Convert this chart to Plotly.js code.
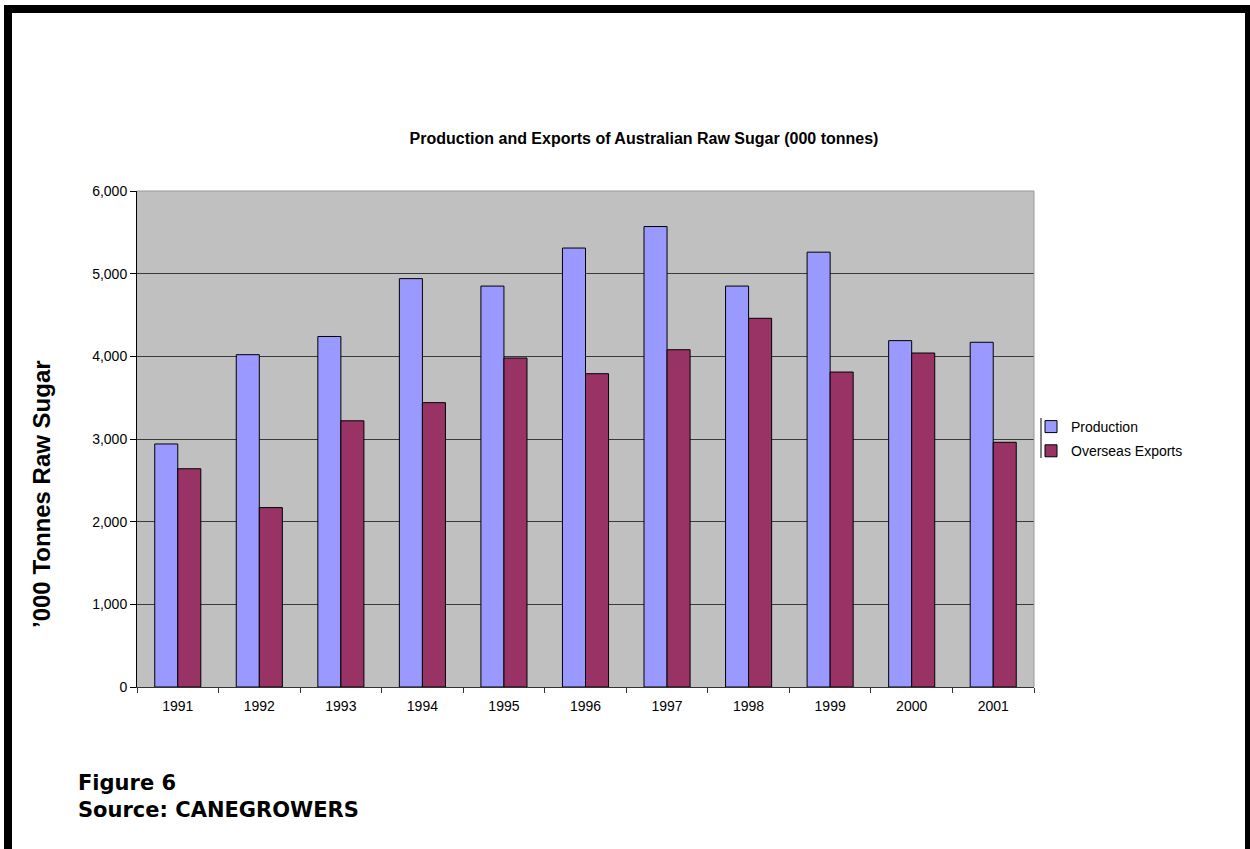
<!DOCTYPE html>
<html>
<head>
<meta charset="utf-8">
<script src="https://cdn.plot.ly/plotly-3.0.1.min.js"></script>
<style>
  html, body { margin: 0; padding: 0; background: #fff; overflow: hidden; }
  #chart { position: absolute; left: 0; top: 0; width: 1250px; height: 849px; }
  #frame { position: absolute; left: 4px; top: 5px; width: 1233px; height: 900px;
           border-left: 8px solid #000; border-top: 8px solid #000; border-right: 8px solid #000;
           pointer-events: none; }
</style>
</head>
<body>
<div id="chart"></div>
<div id="frame"></div>
<script>
// ---- data ----
const years = ['1991','1992','1993','1994','1995','1996','1997','1998','1999','2000','2001'];
const production = [2940, 4020, 4240, 4940, 4850, 5310, 5570, 4850, 5260, 4190, 4170];
const overseasExports = [2640, 2170, 3220, 3440, 3980, 3790, 4080, 4460, 3810, 4040, 2960];
const seriesNames = ['Production', 'Overseas Exports'];
const yTicks = [0, 1000, 2000, 3000, 4000, 5000, 6000];

// ---- layout helpers (pixel -> paper) ----
const W = 1250, H = 849;
const M = { l: 137, r: 216, t: 191, b: 162 };
const PW = W - M.l - M.r, PH = H - M.t - M.b;
const px = x => (x - M.l) / PW;
const py = y => (H - M.b - y) / PH;

const font = 'Liberation Sans, Arial, sans-serif';

const traces = [
  { type: 'bar', name: seriesNames[0], x: years, y: production,
    marker: { color: '#9999FF', line: { color: '#000', width: 1 } },
    legendgroup: 'a', hoverinfo: 'x+y+name' },
  { type: 'bar', name: seriesNames[1], x: years, y: overseasExports,
    marker: { color: '#993366', line: { color: '#000', width: 1 } },
    legendgroup: 'b', hoverinfo: 'x+y+name' }
];

const layout = {
  width: W, height: H,
  margin: { l: M.l, r: M.r, t: M.t, b: M.b, autoexpand: false },
  paper_bgcolor: '#fff',
  plot_bgcolor: '#C0C0C0',
  barmode: 'group',
  bargap: 0.435,
  bargroupgap: 0,
  font: { family: font, size: 14, color: '#000' },
  title: {
    text: '<b>Production and Exports of Australian Raw Sugar (000 tonnes)</b>',
    font: { family: font, size: 16, color: '#000' },
    xref: 'container', yref: 'container',
    x: 644 / W, xanchor: 'center',
    y: 1 - 138 / H, yanchor: 'middle'
  },
  xaxis: {
    type: 'category',
    categoryorder: 'array', categoryarray: years,
    tickson: 'boundaries',
    ticks: 'outside', ticklen: 5, tickcolor: '#333', tickwidth: 1,
    ticklabelstandoff: 6,
    showline: true, linecolor: '#333', linewidth: 1,
    showgrid: false, zeroline: false,
    tickfont: { family: font, size: 14, color: '#000' },
    fixedrange: true
  },
  yaxis: {
    range: [0, 6000],
    tickvals: yTicks,
    tickformat: ',d',
    ticks: 'outside', ticklen: 6, tickcolor: '#000', tickwidth: 1,
    showline: true, linecolor: '#000', linewidth: 1,
    showgrid: true, gridcolor: '#3a3a3a', gridwidth: 1,
    zeroline: false,
    tickfont: { family: font, size: 14, color: '#000' },
    fixedrange: true
  },
  legend: {
    x: px(1031), xanchor: 'left',
    y: py(411), yanchor: 'top',
    bgcolor: 'rgba(0,0,0,0)',
    font: { family: font, size: 14, color: '#000' },
    traceorder: 'grouped',
    tracegroupgap: 3,
    itemclick: false, itemdoubleclick: false
  },
  shapes: [
    { type: 'line', xref: 'paper', yref: 'paper', x0: 0, x1: 1, y0: 1, y1: 1,
      line: { color: '#999', width: 1 }, layer: 'above' },
    { type: 'line', xref: 'paper', yref: 'paper', x0: 1, x1: 1, y0: 0, y1: 1,
      line: { color: '#999', width: 1 }, layer: 'above' },
    { type: 'line', xref: 'paper', yref: 'paper', x0: px(1041), x1: px(1041), y0: py(418), y1: py(458),
      line: { color: '#000', width: 1 }, layer: 'above' }
  ],
  annotations: [
    { text: '<b>\u2019000 Tonnes Raw Sugar</b>', xref: 'paper', yref: 'paper',
      x: px(41), y: py(494), xanchor: 'center', yanchor: 'middle',
      textangle: -90, showarrow: false,
      font: { family: font, size: 24, color: '#000' } },
    { text: '<b>Figure 6</b>', xref: 'paper', yref: 'paper',
      x: px(76), y: py(783), xanchor: 'left', yanchor: 'middle', showarrow: false,
      font: { family: 'DejaVu Sans, Verdana, sans-serif', size: 21, color: '#000' } },
    { text: '<b>Source: CANEGROWERS</b>', xref: 'paper', yref: 'paper',
      x: px(76), y: py(810), xanchor: 'left', yanchor: 'middle', showarrow: false,
      font: { family: 'DejaVu Sans, Verdana, sans-serif', size: 21, color: '#000' } }
  ]
};

Plotly.newPlot('chart', traces, layout, { displayModeBar: false, staticPlot: false });
</script>
</body>
</html>
